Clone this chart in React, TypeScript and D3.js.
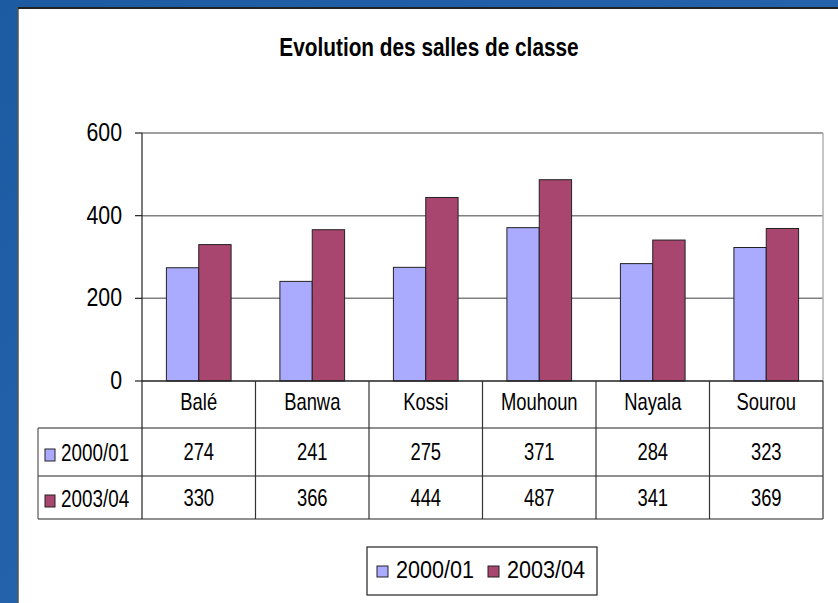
import React from 'react';
import * as d3 from 'd3';

const categories = ['Balé', 'Banwa', 'Kossi', 'Mouhoun', 'Nayala', 'Sourou'];
const seriesNames = ['2000/01', '2003/04'];
const values2000 = [274, 241, 275, 371, 284, 323];
const values2003 = [330, 366, 444, 487, 341, 369];
const yTicks = [0, 200, 400, 600];
const title = 'Evolution des salles de classe';

const colors = ['#aaaaff', '#a8466f'];
const font = '"Liberation Sans", Arial, sans-serif';

// squeezed text like the original picture
const Txt = ({ x, y, size, sx = 0.82, anchor = 'middle', bold = false, children }: any) => (
    <text
        transform={`translate(${x},${y}) scale(${sx},1)`}
        fontSize={size}
        fontFamily={font}
        fontWeight={bold ? 'bold' : 'normal'}
        textAnchor={anchor}
        fill='#000'
    >
        {children}
    </text>
);

const App = () => {
    const W = 838, H = 603;
    const left = 142, right = 823, top = 133, bottom = 381;
    const rows = [381, 428, 476, 519];
    const tableLeft = 38;

    const series = [values2000, values2003];

    const xCell = d3.scaleBand().domain(categories).range([left, right]);
    const x = d3.scaleBand().domain(categories).range([left, right]).paddingInner(0.43).paddingOuter(0.215);
    const xs = d3.scaleBand().domain(seriesNames).range([0, x.bandwidth()]);
    const y = d3.scaleLinear().domain([0, 600]).range([bottom, top]);

    return (
        <svg width={W} height={H} style={{ position: 'absolute', left: 0, top: 0 }}>
            <defs>
                <linearGradient id='bg' x1='0' y1='0' x2='1' y2='1'>
                    <stop offset='0' stopColor='#1c5aa2' />
                    <stop offset='0.5' stopColor='#2462ac' />
                    <stop offset='1' stopColor='#1a559c' />
                </linearGradient>
            </defs>
            <rect width={W} height={H} fill='url(#bg)' />
            <rect x={18} y={8} width={W} height={H} fill='#fff' stroke='#555' strokeWidth={1.5} />
            <line x1={18} x2={W} y1={8} y2={8} stroke='#222' strokeWidth={2} />

            <Txt x={429} y={56} size={26} sx={0.8} bold>{title}</Txt>

            {/* gridlines */}
            {yTicks.filter(t => t > 0).map(t => (
                <line key={t} x1={left} x2={right} y1={y(t)} y2={y(t)} stroke='#808080' strokeWidth={1.5} />
            ))}
            <line x1={right} x2={right} y1={top} y2={bottom} stroke='#b0b0b0' strokeWidth={1.5} />

            {/* bars */}
            {series.map((vals, si) => categories.map((c, i) => (
                <rect
                    key={c + si}
                    x={(x(c) as number) + (xs(seriesNames[si]) as number)}
                    y={y(vals[i])}
                    width={xs.bandwidth()}
                    height={bottom - y(vals[i])}
                    fill={colors[si]}
                    stroke='#222'
                    strokeWidth={1}
                />
            )))}

            {/* y axis */}
            <line x1={left} x2={left} y1={top} y2={rows[3]} stroke='#222' strokeWidth={1.2} />
            {yTicks.map(t => (
                <g key={t}>
                    <line x1={left - 7} x2={left} y1={y(t)} y2={y(t)} stroke='#222' strokeWidth={1.2} />
                    <Txt x={122} y={y(t) + 8} size={26} anchor='end'>{t}</Txt>
                </g>
            ))}

            {/* data table */}
            <line x1={left} x2={right} y1={rows[0]} y2={rows[0]} stroke='#222' strokeWidth={1.5} />
            {rows.slice(1).map(r => (
                <line key={r} x1={tableLeft} x2={right} y1={r} y2={r} stroke='#222' strokeWidth={1.2} />
            ))}
            <line x1={tableLeft} x2={tableLeft} y1={rows[1]} y2={rows[3]} stroke='#555' strokeWidth={1.2} />
            {categories.map(c => (
                <line key={c} x1={(xCell(c) as number) + xCell.bandwidth()} x2={(xCell(c) as number) + xCell.bandwidth()}
                    y1={rows[0]} y2={rows[3]} stroke='#333' strokeWidth={1.2} />
            ))}
            {categories.map(c => (
                <Txt key={c} x={(xCell(c) as number) + xCell.bandwidth() / 2} y={410} size={23} sx={0.8}>{c}</Txt>
            ))}
            {series.map((vals, si) => (
                <g key={si}>
                    <rect x={45} y={si === 0 ? 449 : 495} width={10} height={12} fill={colors[si]} stroke='#222' strokeWidth={1} />
                    <Txt x={61} y={si === 0 ? 461 : 507} size={23} sx={0.82} anchor='start'>{seriesNames[si]}</Txt>
                    {vals.map((v, i) => (
                        <Txt key={i} x={(xCell(categories[i]) as number) + xCell.bandwidth() / 2} y={si === 0 ? 460 : 506} size={23} sx={0.8}>{v}</Txt>
                    ))}
                </g>
            ))}

            {/* legend */}
            <rect x={367} y={547} width={230} height={48} fill='#fff' stroke='#222' strokeWidth={1.2} />
            {seriesNames.map((s, si) => (
                <g key={s}>
                    <rect x={si === 0 ? 377 : 488} y={566} width={11} height={11} fill={colors[si]} stroke='#222' strokeWidth={1} />
                    <Txt x={si === 0 ? 396 : 507} y={578} size={24} sx={0.9} anchor='start'>{s}</Txt>
                </g>
            ))}
        </svg>
    );
};

export default App;
